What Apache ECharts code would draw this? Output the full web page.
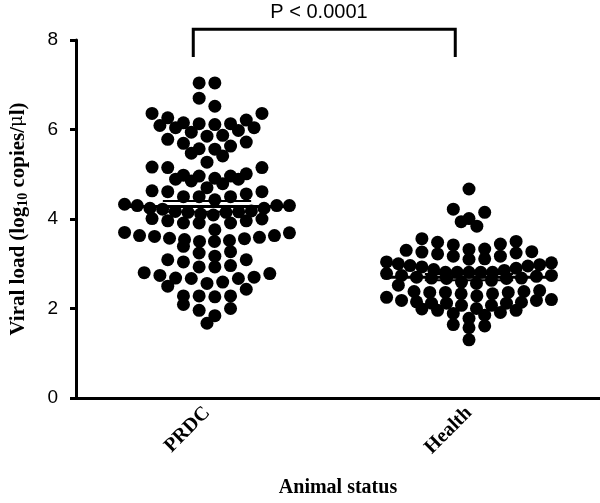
<!DOCTYPE html>
<html><head><meta charset="utf-8">
<script src="https://cdn.jsdelivr.net/npm/echarts@6/dist/echarts.min.js"></script>
<style>html,body{margin:0;padding:0;background:#fff}#c{width:600px;height:503px}</style>
</head><body><div id="c"></div>
<script>
// ---------------- data ----------------
const categories = ['PRDC', 'Health'];
const yTicks = [0, 2, 4, 6, 8];
const prdcValues = [
  7.04, 7.04, 6.70, 6.52, 6.36, 6.36,
  6.21, 6.13, 6.11, 6.09, 6.13, 6.15, 6.26,
  6.04, 5.98, 6.04, 5.94,
  5.87, 5.78, 5.69, 5.72, 5.85,
  5.63, 5.56, 5.57, 5.41, 5.47, 5.27,
  5.15, 5.15, 5.16,
  5.01, 4.96, 4.91, 4.89, 4.89, 4.96, 4.98,
  4.79, 4.70, 4.85,
  4.63, 4.61, 4.56, 4.61,
  4.50, 4.50, 4.43, 4.50,
  4.30, 4.30, 4.24, 4.22, 4.24, 4.30, 4.33,
  4.18, 4.16, 4.15, 4.15, 4.17,
  4.11, 4.01, 3.96, 3.91, 3.91, 3.76, 3.91, 3.96, 4.00, 4.09,
  3.70, 3.69,
  3.63, 3.61, 3.57, 3.54, 3.50, 3.39, 3.50, 3.52, 3.56, 3.59, 3.63,
  3.24, 3.27, 3.17, 3.09, 3.09, 3.04, 2.96, 2.93, 2.93,
  2.78, 2.70, 2.67, 2.59, 2.50, 2.56, 2.67, 2.68, 2.74, 2.80,
  2.43, 2.28, 2.26, 2.28, 2.28,
  2.09, 2.00, 1.96, 1.84, 1.67
];
const healthValues = [
  4.67,
  4.22, 4.15,
  4.01, 3.94, 3.84,
  3.56, 3.48, 3.42, 3.44, 3.50,
  3.26, 3.22, 3.32, 3.24, 3.30, 3.27, 3.33,
  3.17, 3.10, 3.17, 3.11, 3.04,
  2.95, 3.02, 2.98, 2.93, 2.96, 3.00, 2.90,
  2.81, 2.74, 2.87, 2.81, 2.81, 2.81, 2.81, 2.85, 2.74, 2.78,
  2.68, 2.67, 2.63, 2.59, 2.67, 2.68, 2.70, 2.72,
  2.56, 2.52,
  2.28, 2.25,
  2.40, 2.20, 2.38, 2.18, 2.36, 2.15, 2.33, 2.12, 2.33, 2.12, 2.36, 2.12, 2.36, 2.14, 2.38, 2.18,
  2.07, 2.00, 1.96, 1.91, 1.85, 1.78, 1.89, 1.96, 1.99, 2.07,
  1.61, 1.57, 1.64,
  1.30
];
const groupMeans = [4.28, 2.70];
const groupSEMs = [0.12, 0.07];
const pLabel = 'P < 0.0001';
const bracketY = [7.62, 8.24];

// ---------------- layout ----------------
const W = 600, H = 503;
const GRID = { left: 66, right: 0, top: 40, bottom: 103 };
const gridW = W - GRID.left - GRID.right, gridH = H - GRID.top - GRID.bottom;
const Y_MIN = 0, Y_MAX = 8, X_MIN = 0, X_MAX = categories.length;
const pxX = gridW / (X_MAX - X_MIN), pxY = gridH / (Y_MAX - Y_MIN);
const DOT = 13, SLOT = 16, ROW_H = 0.25, MAX_HALF = 84;
const MEAN_HALF = 88, SEM_HALF = 45, BRACKET_SHIFT = -14;

// Prism-like dot plot: group values into rows, spread each row symmetrically
function dotLayout(vals, center) {
  const desc = vals.slice().sort((a, b) => b - a);
  const rows = [];
  let cur = null;
  for (const v of desc) {
    if (!cur || cur.start - v > ROW_H) { cur = { start: v, vals: [] }; rows.push(cur); }
    cur.vals.push(v);
  }
  const out = [];
  rows.forEach(r => {
    const asc = r.vals.slice().sort((a, b) => a - b);
    const n = asc.length;
    const step = n > 1 ? Math.min(SLOT, 2 * MAX_HALF / (n - 1)) : SLOT;
    const slots = [];
    for (let i = 0; i < n; i++) slots.push((i - (n - 1) / 2) * step);
    slots.sort((a, b) => Math.abs(a) - Math.abs(b) || b - a);
    asc.forEach((v, i) => out.push([center + slots[i] / pxX, v]));
  });
  return out;
}

const groups = [prdcValues, healthValues];
const series = [];
groups.forEach((vals, i) => {
  const c = i + 0.5;
  series.push({
    type: 'scatter', xAxisIndex: 1, yAxisIndex: 0,
    data: dotLayout(vals, c), symbolSize: DOT,
    itemStyle: { color: '#000', opacity: 1 }, z: 2, silent: true
  });
  const m = groupMeans[i], s = groupSEMs[i];
  const hl = (half, y, w) => ({
    type: 'line', xAxisIndex: 1, yAxisIndex: 0, symbol: 'none', silent: true, z: 3,
    data: [[c - half / pxX, y], [c + half / pxX, y]],
    lineStyle: { color: '#000', width: w }
  });
  series.push(hl(MEAN_HALF, m, 3));
  series.push(hl(SEM_HALF, m + s, 2));
  series.push(hl(SEM_HALF, m - s, 2));
});
// significance bracket
const bx0 = 0.5 + BRACKET_SHIFT / pxX, bx1 = 1.5 + BRACKET_SHIFT / pxX;
series.push({
  type: 'line', xAxisIndex: 1, yAxisIndex: 0, symbol: 'none', silent: true, clip: false,
  data: [[bx0, bracketY[0]], [bx0, bracketY[1]], [bx1, bracketY[1]], [bx1, bracketY[0]]],
  lineStyle: { color: '#000', width: 3, join: 'miter' }
});

const chart = echarts.init(document.getElementById('c'), null, { renderer: 'canvas' });
chart.setOption({
  animation: false,
  backgroundColor: '#fff',
  grid: GRID,
  xAxis: [{
    type: 'category', data: categories, boundaryGap: true,
    axisLine: { lineStyle: { color: '#000', width: 3 } },
    axisTick: { alignWithLabel: true, length: 8, lineStyle: { color: '#000', width: 3 } },
    axisLabel: { rotate: 45, margin: 12, color: '#000', fontFamily: 'Liberation Serif', fontWeight: 'bold', fontSize: 20 },
    name: 'Animal status', nameLocation: 'middle', nameGap: 80,
    nameTextStyle: { color: '#000', fontFamily: 'Liberation Serif', fontWeight: 'bold', fontSize: 20 }
  }, {
    type: 'value', min: X_MIN, max: X_MAX, show: false
  }],
  yAxis: [{
    type: 'value', min: Y_MIN, max: Y_MAX, interval: 2,
    axisLine: { show: true, lineStyle: { color: '#000', width: 3 } },
    axisTick: { show: true, length: 6, lineStyle: { color: '#000', width: 3 } },
    axisLabel: { color: '#000', fontFamily: 'Liberation Sans', fontSize: 19, margin: 18,
      formatter: v => yTicks.includes(v) ? String(v) : '' },
    splitLine: { show: false },
    name: '{b|Viral load (log}{s|10}{b| copies/}{m|\u03bc}{b|l)}',
    nameLocation: 'middle', nameGap: 46, nameRotate: 90,
    nameTextStyle: {
      rich: {
        b: { fontFamily: 'Liberation Serif', fontWeight: 'bold', fontSize: 21, color: '#000', lineHeight: 22, verticalAlign: 'top' },
        s: { fontFamily: 'Liberation Serif', fontWeight: 'bold', fontSize: 14, color: '#000', lineHeight: 16, verticalAlign: 'bottom' },
        m: { fontFamily: 'DejaVu Serif', fontWeight: 'normal', fontSize: 18, color: '#000', lineHeight: 22, verticalAlign: 'top' }
      }
    }
  }],
  graphic: [{
    type: 'text', x: GRID.left + 1 * pxX + BRACKET_SHIFT, y: 12,
    style: { text: pLabel, fill: '#000', font: '20px "Liberation Sans"', textAlign: 'center', textVerticalAlign: 'middle' }
  }],
  series
});
</script></body></html>
